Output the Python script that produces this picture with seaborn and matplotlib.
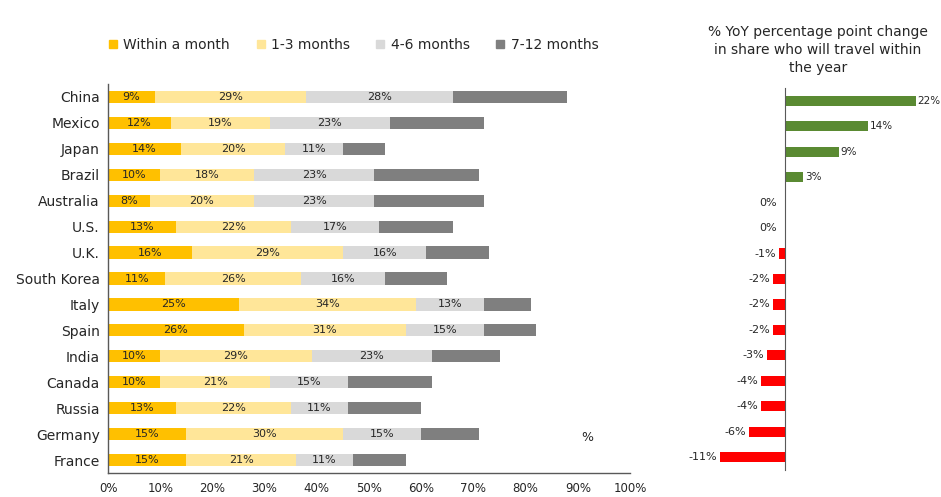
import numpy as np
import pandas as pd
import seaborn as sns
import matplotlib.pyplot as plt
from matplotlib.lines import Line2D

countries = ["China", "Mexico", "Japan", "Brazil", "Australia", "U.S.", "U.K.",
             "South Korea", "Italy", "Spain", "India", "Canada", "Russia",
             "Germany", "France"]
within_month = [9, 12, 14, 10, 8, 13, 16, 11, 25, 26, 10, 10, 13, 15, 15]
months_1_3 = [29, 19, 20, 18, 20, 22, 29, 26, 34, 31, 29, 21, 22, 30, 21]
months_4_6 = [28, 23, 11, 23, 23, 17, 16, 16, 13, 15, 23, 15, 11, 15, 11]
months_7_12 = [22, 18, 8, 20, 21, 14, 12, 12, 9, 10, 13, 16, 14, 11, 10]
series_names = ["Within a month", "1-3 months", "4-6 months", "7-12 months"]
yoy_change = [22, 14, 9, 3, 0, 0, -1, -2, -2, -2, -3, -4, -4, -6, -11]
xtick_values = list(range(0, 101, 10))

colors = ["#FFC000", "#FFE699", "#D9D9D9", "#7F7F7F"]
green = "#5A8A32"
red = "#FF0000"
text_col = "#262626"
spine_col = "#595959"

sns.set_style("white")
plt.rcParams["font.family"] = ["DejaVu Sans"]

fig = plt.figure(figsize=(9.41, 4.97), dpi=100)
W, H = 941, 497
ax = fig.add_axes([108 / W, 1 - 473 / H, 522 / W, (473 - 84) / H])
ax2 = fig.add_axes([700 / W, 1 - 470 / H, 235 / W, (470 - 88) / H])

# ---- left stacked bars ----
series = [within_month, months_1_3, months_4_6, months_7_12]
cums = np.cumsum(np.array(series), axis=0)
df = pd.DataFrame({"country": countries})
for i in reversed(range(4)):
    df["cum"] = cums[i]
    sns.barplot(data=df, x="cum", y="country", color=colors[i], saturation=1,
                width=0.47, linewidth=0, errorbar=None, ax=ax, orient="h")

for i in range(3):
    starts = cums[i] - np.array(series[i])
    for j, v in enumerate(series[i]):
        ax.text(starts[j] + v / 2, j, f"{v}%", ha="center", va="center",
                fontsize=8, color=text_col)

ax.set_xlim(0, 100)
ax.set_ylim(14.5, -0.5)
ax.set_xlabel("")
ax.set_ylabel("")
ax.set_xticks(xtick_values)
ax.set_xticklabels([f"{v}%" for v in xtick_values], fontsize=8.5, color=text_col)
ax.set_yticks(range(len(countries)))
ax.set_yticklabels(countries, fontsize=10, color=text_col)
ax.set_yticks(np.arange(-0.5, len(countries), 1), minor=True)
ax.tick_params(axis="y", which="major", length=0, pad=6)
ax.tick_params(axis="y", which="minor", length=3, color=spine_col, direction="out")
ax.tick_params(axis="x", length=4, color=spine_col, direction="out", pad=2.5)
for s in ["top", "right"]:
    ax.spines[s].set_visible(False)
for s in ["left", "bottom"]:
    ax.spines[s].set_color(spine_col)
    ax.spines[s].set_linewidth(1)
ax.text(91.8, 13.15, "%", ha="center", va="center", fontsize=9, color=text_col)

handles = [Line2D([], [], marker="s", linestyle="", markersize=6,
                  markerfacecolor=c, markeredgecolor=c) for c in colors]
ax.legend(handles, series_names, loc="center", bbox_to_anchor=(0.468, 1.10),
          ncol=4, frameon=False, fontsize=10, handletextpad=0.25,
          columnspacing=1.7, handlelength=1.0, labelcolor=text_col)

# ---- right bars ----
df2 = pd.DataFrame({"idx": [str(i) for i in range(len(yoy_change))],
                    "change": yoy_change,
                    "sign": ["pos" if v > 0 else "neg" for v in yoy_change]})
sns.barplot(data=df2, x="change", y="idx", hue="sign",
            palette={"pos": green, "neg": red}, saturation=1, dodge=False,
            width=0.4, linewidth=0, errorbar=None, legend=False, ax=ax2,
            orient="h")
for j, v in enumerate(yoy_change):
    if v > 0:
        ax2.text(v + 0.3, j, f"{v}%", ha="left", va="center", fontsize=7.5,
                 color=text_col)
    else:
        ax2.text(min(v, -0.8) - 0.5, j, f"{v}%", ha="right", va="center",
                 fontsize=8, color=text_col)
ax2.set_xlim(-14.3, 25.2)
ax2.set_ylim(14.5, -0.5)
ax2.set_xlabel("")
ax2.set_ylabel("")
ax2.set_xticks([])
ax2.set_yticks(np.arange(-0.5, len(yoy_change), 1))
ax2.set_yticklabels([])
ax2.tick_params(axis="y", length=3, color=spine_col, direction="out")
ax2.spines["left"].set_position(("data", 0))
ax2.spines["left"].set_color(spine_col)
for s in ["top", "right", "bottom"]:
    ax2.spines[s].set_visible(False)

fig.text(818 / W, 1 - 25 / H,
         "% YoY percentage point change\nin share who will travel within\nthe year",
         ha="center", va="top", fontsize=10, color=text_col, linespacing=1.35)

fig.savefig("out.png", dpi=100, facecolor="white")
